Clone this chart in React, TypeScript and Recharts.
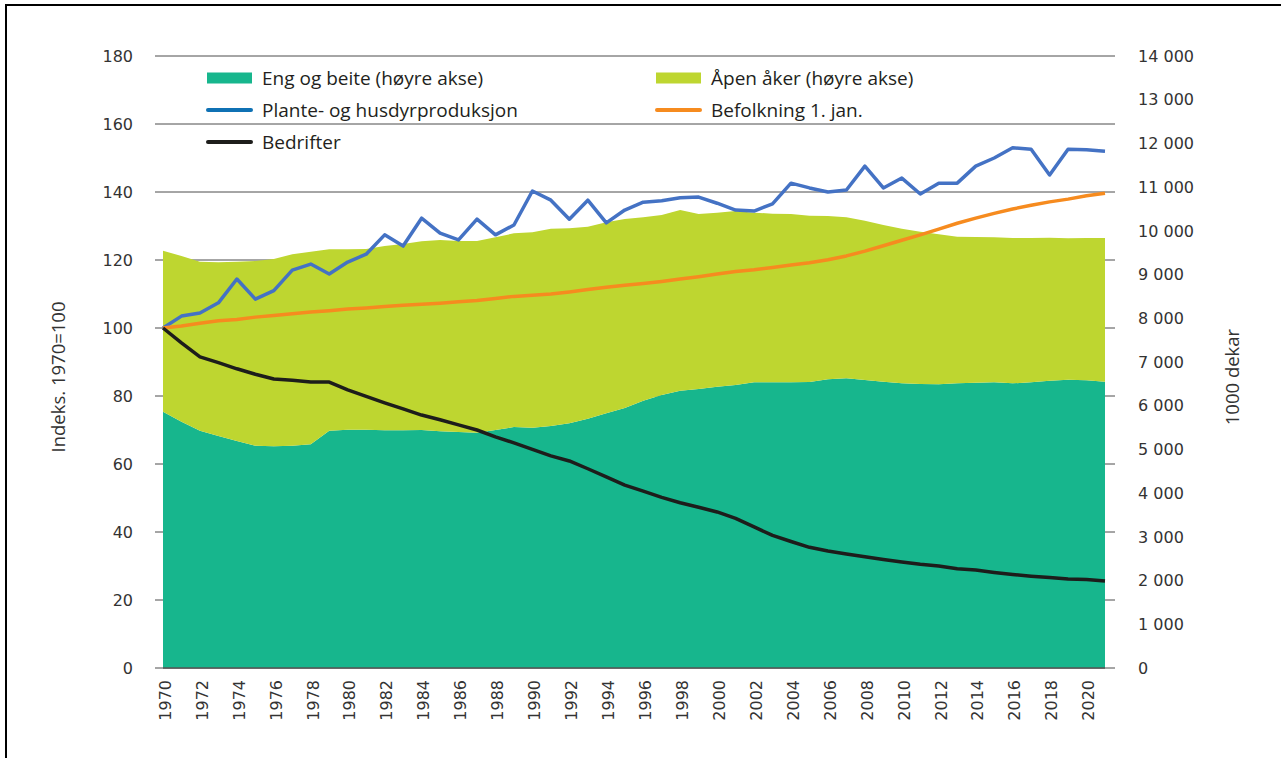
import { ComposedChart, Area, Line, XAxis, YAxis, CartesianGrid } from 'recharts';

const years = [
  1970, 1971, 1972, 1973, 1974, 1975, 1976, 1977, 1978, 1979,
  1980, 1981, 1982, 1983, 1984, 1985, 1986, 1987, 1988, 1989,
  1990, 1991, 1992, 1993, 1994, 1995, 1996, 1997, 1998, 1999,
  2000, 2001, 2002, 2003, 2004, 2005, 2006, 2007, 2008, 2009,
  2010, 2011, 2012, 2013, 2014, 2015, 2016, 2017, 2018, 2019,
  2020, 2021,
];

// 1000 dekar (høyre akse)
const engOgBeite = [
  5864, 5635, 5429, 5307, 5193, 5086, 5071, 5086, 5117, 5429,
  5452, 5452, 5437, 5437, 5444, 5414, 5399, 5383, 5444, 5513,
  5498, 5536, 5597, 5704, 5826, 5950, 6115, 6245, 6344, 6383,
  6436, 6474, 6535, 6535, 6535, 6543, 6604, 6627, 6588, 6550,
  6512, 6497, 6489, 6512, 6527, 6535, 6512, 6535, 6573, 6596,
  6581, 6550,
];

const apenAker = [
  3682, 3790, 3866, 3973, 4102, 4225, 4285, 4377, 4407, 4149,
  4126, 4133, 4217, 4263, 4317, 4377, 4369, 4385, 4408, 4431,
  4469, 4514, 4461, 4392, 4369, 4320, 4195, 4118, 4133, 4003,
  3980, 3981, 3881, 3858, 3851, 3804, 3736, 3683, 3645, 3584,
  3538, 3484, 3432, 3355, 3333, 3317, 3325, 3302, 3271, 3234,
  3256, 3287,
];

// Indeks, 1970=100 (venstre akse)
const produksjon = [
  100, 103.5, 104.4, 107.4, 114.4, 108.5, 111, 117, 118.8, 115.9,
  119.4, 121.7, 127.4, 124.1, 132.3, 127.9, 125.9, 132, 127.4, 130.3,
  140.3, 137.6, 132, 137.6, 130.9, 134.7, 137, 137.4, 138.3, 138.5,
  136.7, 134.7, 134.4, 136.5, 142.6, 141.2, 140, 140.6, 147.6, 141.2,
  144.1, 139.4, 142.6, 142.6, 147.6, 150, 153, 152.6, 145, 152.6,
  152.4, 152,
];

const befolkning = [
  100, 100.6, 101.4, 102.1, 102.5, 103.2, 103.7, 104.2, 104.7, 105.1,
  105.6, 105.9, 106.3, 106.7, 107, 107.3, 107.7, 108.1, 108.7, 109.3,
  109.6, 110, 110.6, 111.3, 112, 112.6, 113.1, 113.7, 114.4, 115.1,
  115.9, 116.6, 117.1, 117.8, 118.5, 119.2, 120.1, 121.2, 122.6, 124.2,
  125.8, 127.4, 129.1, 130.8, 132.3, 133.7, 135, 136.1, 137.1, 137.9,
  138.9, 139.6,
];

const bedrifter = [
  100, 95.6, 91.5, 89.8, 88, 86.4, 85, 84.6, 84.1, 84.1,
  81.8, 79.9, 78, 76.2, 74.4, 73, 71.5, 70, 68, 66.2,
  64.3, 62.4, 60.9, 58.6, 56.2, 53.8, 52, 50.2, 48.6, 47.3,
  45.9, 44, 41.5, 39, 37.2, 35.5, 34.4, 33.5, 32.7, 31.9,
  31.2, 30.5, 30, 29.2, 28.8, 28.1, 27.5, 27, 26.6, 26.2,
  26, 25.6,
];

const yearTicks = [
  1970, 1972, 1974, 1976, 1978, 1980, 1982, 1984, 1986, 1988, 1990, 1992, 1994,
  1996, 1998, 2000, 2002, 2004, 2006, 2008, 2010, 2012, 2014, 2016, 2018, 2020,
];
const leftTicks = [0, 20, 40, 60, 80, 100, 120, 140, 160, 180];
const rightTicks = [
  0, 1000, 2000, 3000, 4000, 5000, 6000, 7000, 8000, 9000, 10000, 11000, 12000, 13000, 14000,
];

const data = years.map((year, i) => ({
  year,
  eng: engOgBeite[i],
  aker: apenAker[i],
  prod: produksjon[i],
  bef: befolkning[i],
  bedr: bedrifter[i],
}));

const W = 1281;
const H = 758;
const PLOT_LEFT = 163;
const PLOT_RIGHT = 1105;
const PLOT_TOP = 56;
const PLOT_BOTTOM = 668;

const GRID = '#4d4d4d';
const TEXT = '#333333';
const TICK_FONT = '"DejaVu Sans", Verdana, sans-serif';
const LABEL_FONT = '"Open Sans", "Noto Sans", sans-serif';

const fmtThousands = (v: number) =>
  v >= 1000 ? `${Math.floor(v / 1000)} ${String(v % 1000).padStart(3, '0')}` : String(v);

const LeftTick = (props: any) => {
  const { y, payload } = props;
  return (
    <g>
      <line x1={PLOT_LEFT - 8} x2={PLOT_LEFT} y1={y} y2={y} stroke={GRID} strokeWidth={1} />
      <line x1={PLOT_RIGHT} x2={PLOT_RIGHT + 10} y1={y} y2={y} stroke={GRID} strokeWidth={1} />
      <text x={133} y={y} dy="0.36em" textAnchor="end" fontFamily={TICK_FONT} fontSize={16} fill={TEXT}>
        {payload.value}
      </text>
    </g>
  );
};

const RightTick = (props: any) => {
  const { y, payload } = props;
  return (
    <text x={1138} y={y} dy="0.36em" textAnchor="start" fontFamily={TICK_FONT} fontSize={16} fill={TEXT}>
      {fmtThousands(payload.value)}
    </text>
  );
};

const YearTick = (props: any) => {
  const { x, payload } = props;
  const tx = x + 2;
  const ty = PLOT_BOTTOM + 12;
  return (
    <text
      x={tx}
      y={ty}
      dy="0.36em"
      transform={`rotate(-90 ${tx} ${ty})`}
      textAnchor="end"
      fontFamily={TICK_FONT}
      fontSize={16}
      fill={TEXT}
    >
      {payload.value}
    </text>
  );
};

const legendItems = [
  { label: 'Eng og beite (høyre akse)', color: '#17b68d', kind: 'rect', x: 207, y: 78 },
  { label: 'Plante- og husdyrproduksjon', color: '#0f71b4', kind: 'line', x: 207, y: 110 },
  { label: 'Bedrifter', color: '#1d1d1b', kind: 'line', x: 207, y: 142 },
  { label: 'Åpen åker (høyre akse)', color: '#bed630', kind: 'rect', x: 656, y: 78 },
  { label: 'Befolkning 1. jan.', color: '#f68b1f', kind: 'line', x: 656, y: 110 },
];

export default function App() {
  return (
    <div
      style={{
        position: 'absolute',
        left: 0,
        top: 0,
        width: W,
        height: H,
        overflow: 'hidden',
        background: '#fff',
      }}
    >
      <div
        style={{
          position: 'absolute',
          left: 5,
          top: 4,
          width: 1400,
          height: 900,
          borderLeft: '2px solid #000',
          borderTop: '2px solid #000',
        }}
      />
      <ComposedChart
        width={W}
        height={H}
        data={data}
        margin={{ top: PLOT_TOP, right: 0, bottom: 0, left: 0 }}
        style={{ position: 'absolute', left: 0, top: 0 }}
      >
        <CartesianGrid yAxisId="left" vertical={false} stroke={GRID} strokeWidth={1} />
        <XAxis
          dataKey="year"
          type="number"
          domain={[1970, 2021]}
          ticks={yearTicks}
          interval={0}
          tickLine={false}
          axisLine={{ stroke: '#555', strokeWidth: 1.5 }}
          tick={<YearTick />}
          height={H - PLOT_BOTTOM}
        />
        <YAxis
          yAxisId="left"
          domain={[0, 180]}
          ticks={leftTicks}
          interval={0}
          width={PLOT_LEFT}
          axisLine={false}
          tickLine={false}
          tick={<LeftTick />}
        />
        <YAxis
          yAxisId="right"
          orientation="right"
          domain={[0, 14000]}
          ticks={rightTicks}
          interval={0}
          width={W - PLOT_RIGHT}
          axisLine={false}
          tickLine={false}
          tick={<RightTick />}
        />
        <Area
          yAxisId="right"
          dataKey="eng"
          stackId="a"
          type="linear"
          fill="#17b68d"
          fillOpacity={1}
          stroke="none"
          isAnimationActive={false}
        />
        <Area
          yAxisId="right"
          dataKey="aker"
          stackId="a"
          type="linear"
          fill="#bed630"
          fillOpacity={1}
          stroke="none"
          isAnimationActive={false}
        />
        <Line
          yAxisId="left"
          dataKey="prod"
          type="linear"
          stroke="#4472c4"
          strokeWidth={3.5}
          dot={false}
          activeDot={false}
          strokeLinejoin="round"
          isAnimationActive={false}
        />
        <Line
          yAxisId="left"
          dataKey="bef"
          type="linear"
          stroke="#f68b1f"
          strokeWidth={3.5}
          dot={false}
          activeDot={false}
          strokeLinejoin="round"
          isAnimationActive={false}
        />
        <Line
          yAxisId="left"
          dataKey="bedr"
          type="linear"
          stroke="#1d1d1b"
          strokeWidth={3.5}
          dot={false}
          activeDot={false}
          strokeLinejoin="round"
          isAnimationActive={false}
        />
      </ComposedChart>

      <svg width={W} height={H} style={{ position: 'absolute', left: 0, top: 0, pointerEvents: 'none' }}>
        <text
          x={57}
          y={377}
          transform="rotate(-90 57 377)"
          textAnchor="middle"
          dominantBaseline="central"
          fontFamily={LABEL_FONT}
          fontSize={18.5}
          fill={TEXT}
        >
          Indeks. 1970=100
        </text>
        <text
          x={1231}
          y={377}
          transform="rotate(-90 1231 377)"
          textAnchor="middle"
          dominantBaseline="central"
          fontFamily={LABEL_FONT}
          fontSize={18.5}
          fill={TEXT}
        >
          1000 dekar
        </text>
        {legendItems.map((item) => (
          <g key={item.label}>
            {item.kind === 'rect' ? (
              <rect x={item.x} y={item.y - 5.5} width={45} height={11} fill={item.color} />
            ) : (
              <line
                x1={item.x + 1}
                x2={item.x + 44}
                y1={item.y}
                y2={item.y}
                stroke={item.color}
                strokeWidth={4}
                strokeLinecap="round"
              />
            )}
            <text
              x={item.x + 55}
              y={item.y}
              dy="0.36em"
              fontFamily={LABEL_FONT}
              fontSize={19}
              fill="#231f20"
            >
              {item.label}
            </text>
          </g>
        ))}
      </svg>
    </div>
  );
}
